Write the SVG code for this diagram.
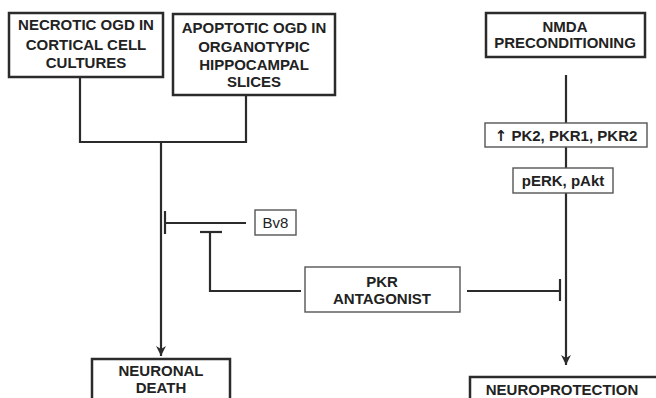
<svg xmlns="http://www.w3.org/2000/svg" width="656" height="398" viewBox="0 0 656 398">
<defs>
<style>
.main{fill:#fff;stroke:#2b2b2b;stroke-width:2.5}
.thin{fill:#fff;stroke:#555;stroke-width:1.4}
.t{font-family:"Liberation Sans",Arial,sans-serif;font-weight:bold;font-size:15px;fill:#222;text-anchor:middle}
.r{font-family:"Liberation Sans",Arial,sans-serif;font-size:15px;fill:#222;text-anchor:middle}
.ln{fill:none;stroke:#2b2b2b;stroke-width:2.2}
</style>
<marker id="arr" viewBox="0 0 10 10" refX="10" refY="5" markerWidth="4.5" markerHeight="4.5" orient="auto" markerUnits="strokeWidth">
<path d="M0,0 L10,5 L0,10 L3,5 z" fill="#2b2b2b"/>
</marker>
</defs>
<rect width="656" height="398" fill="#fff"/>
<g id="connectors">
<path class="ln" d="M80,77 V142 H246 V95"/>
<path class="ln" d="M161,142 V356" marker-end="url(#arr)"/>
<path class="ln" d="M246,223 H165"/>
<path class="ln" d="M165,211 V234"/>
<path class="ln" d="M301,291 H210 V232"/>
<path class="ln" d="M200,232 H222"/>
<path class="ln" d="M467,291 H560"/>
<path class="ln" d="M560,279 V301"/>
<path class="ln" d="M566,75 V123"/>
<path class="ln" d="M566,147 V168"/>
<path class="ln" d="M566,193 V365" marker-end="url(#arr)"/>
</g>
<g id="necrotic">
<rect class="main" x="9" y="13" width="154" height="64"/>
<text class="t" x="86" y="30">NECROTIC OGD IN</text>
<text class="t" x="86" y="50">CORTICAL CELL</text>
<text class="t" x="86" y="68">CULTURES</text>
</g>
<g id="apoptotic">
<rect class="main" x="173" y="14" width="162" height="81"/>
<text class="t" x="254" y="33">APOPTOTIC OGD IN</text>
<text class="t" x="254" y="52">ORGANOTYPIC</text>
<text class="t" x="254" y="70">HIPPOCAMPAL</text>
<text class="t" x="254" y="87">SLICES</text>
</g>
<g id="nmda">
<rect class="main" x="486" y="13" width="159" height="44"/>
<text class="t" x="565" y="32">NMDA</text>
<text class="t" x="565" y="48">PRECONDITIONING</text>
</g>
<g id="pk2">
<rect class="thin" x="485" y="123" width="162" height="24"/>
<text class="t" x="566" y="140.5"><tspan font-family="DejaVu Sans, sans-serif">↑</tspan> PK2, PKR1, PKR2</text>
</g>
<g id="perk">
<rect class="thin" x="513" y="168" width="100" height="25"/>
<text class="t" x="563" y="186">pERK, pAkt</text>
</g>
<g id="bv8">
<rect class="thin" x="255" y="210" width="41" height="25"/>
<text class="r" x="275.5" y="228">Bv8</text>
</g>
<g id="pkr">
<rect class="thin" x="305" y="267" width="155" height="45"/>
<text class="t" x="382" y="287">PKR</text>
<text class="t" x="382" y="304">ANTAGONIST</text>
</g>
<g id="death">
<rect class="main" x="92" y="359" width="138" height="50"/>
<text class="t" x="161" y="376">NEURONAL</text>
<text class="t" x="161" y="393">DEATH</text>
</g>
<g id="neuroprotection">
<rect class="main" x="470" y="377" width="195" height="40"/>
<text class="t" x="562" y="395">NEUROPROTECTION</text>
</g>
</svg>
